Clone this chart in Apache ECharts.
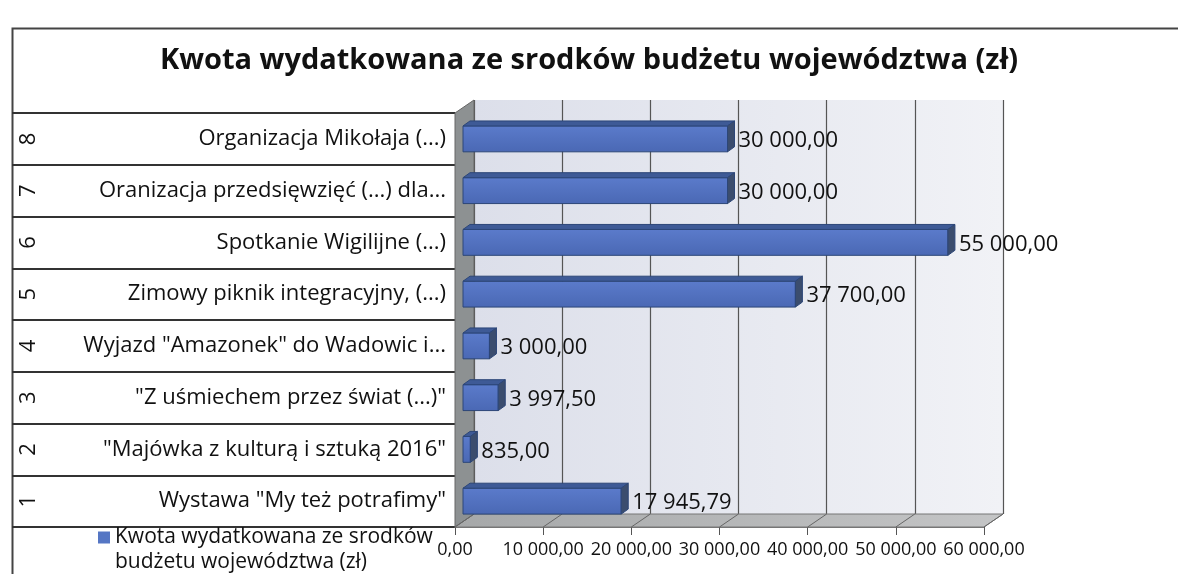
<!DOCTYPE html>
<html>
<head>
<meta charset="utf-8">
<script src="https://cdn.jsdelivr.net/npm/echarts@6/dist/echarts.min.js"></script>
<style>
  html, body { margin: 0; padding: 0; background: #fff; }
  #chart { width: 1178px; height: 574px; }
</style>
</head>
<body>
<div id="chart"></div>
<script>
// dane z wykresu (od dołu do góry)
var categoryNumbers = ['1', '2', '3', '4', '5', '6', '7', '8']
var categoryNames = [
  'Wystawa "My też potrafimy"',
  '"Majówka z kulturą i sztuką 2016"',
  '"Z uśmiechem przez świat (...)"',
  'Wyjazd "Amazonek" do Wadowic i...',
  'Zimowy piknik integracyjny, (...)',
  'Spotkanie Wigilijne (...)',
  'Oranizacja przedsięwzięć (...) dla...',
  'Organizacja Mikołaja (...)'
]
var amounts = [17945.79, 835, 3997.5, 3000, 37700, 55000, 30000, 30000]
var xTicks = [0, 10000, 20000, 30000, 40000, 50000, 60000]
var seriesName = 'Kwota wydatkowana ze srodków budżetu województwa (zł)'
var titleText = 'Kwota wydatkowana ze srodków budżetu województwa (zł)'

var FONT = 'Open Sans'
var DEPTH_X = 19
var DEPTH_Y = -13

function fmt(v) {
  var s = v.toFixed(2).split('.')
  s[0] = s[0].replace(/\B(?=(\d{3})+(?!\d))/g, ' ')
  return s.join(',')
}

// słupki 3D
function renderBar(params, api) {
  var v = api.value(0)
  var c = api.value(1)
  var p0 = api.coord([0, c])
  var p1 = api.coord([v, c])
  var h = api.size([0, 1])[1] * 0.5
  var sx = 8, dx = 7, dy = -5
  var x0 = p0[0] + sx, x1 = p1[0] + sx
  var y0 = p0[1] - h / 2, y1 = p0[1] + h / 2
  var stroke = '#2c4678'
  return {
    type: 'group',
    children: [
      {
        type: 'rect',
        shape: { x: x0, y: y0, width: x1 - x0, height: h },
        style: {
          fill: new echarts.graphic.LinearGradient(0, 0, 0, 1, [
            { offset: 0, color: '#5b7bcb' },
            { offset: 1, color: '#4a68b4' }
          ]),
          stroke: stroke, lineWidth: 1
        }
      },
      {
        type: 'polygon',
        shape: { points: [[x0, y0], [x1, y0], [x1 + dx, y0 + dy], [x0 + dx, y0 + dy]] },
        style: { fill: '#3e5a96', stroke: stroke, lineWidth: 1 }
      },
      {
        type: 'polygon',
        shape: { points: [[x1, y0], [x1 + dx, y0 + dy], [x1 + dx, y1 + dy], [x1, y1]] },
        style: { fill: '#3b4d6e', stroke: stroke, lineWidth: 1 }
      },
      {
        type: 'text',
        style: {
          text: fmt(v),
          x: x1 + dx + 4,
          y: p0[1] + 2,
          verticalAlign: 'middle',
          fill: '#111',
          font: '22px "' + FONT + '"'
        }
      }
    ]
  }
}

// podłoga i lewa ściana
function renderFloor(params, api) {
  var cs = params.coordSys
  var bottom = cs.y + cs.height
  var x = api.coord([api.value(0), 0])[0]
  var children = []
  if (params.dataIndex === 0) {
    children.push({
      type: 'polygon',
      shape: { points: [[cs.x, bottom], [cs.x + cs.width, bottom], [cs.x + cs.width + DEPTH_X, bottom + DEPTH_Y], [cs.x + DEPTH_X, bottom + DEPTH_Y]] },
      style: {
        fill: new echarts.graphic.LinearGradient(0, 0, 1, 0, [
          { offset: 0, color: '#a6a8a9' },
          { offset: 1, color: '#c4c5c6' }
        ]),
        stroke: '#777', lineWidth: 1
      }
    })
    children.push({
      type: 'polygon',
      shape: { points: [[cs.x, cs.y], [cs.x + DEPTH_X, cs.y + DEPTH_Y], [cs.x + DEPTH_X, bottom + DEPTH_Y], [cs.x, bottom]] },
      style: { fill: '#8d9192', stroke: '#666', lineWidth: 1 }
    })
  }
  children.push({
    type: 'line',
    shape: { x1: x, y1: bottom, x2: x + DEPTH_X, y2: bottom + DEPTH_Y },
    style: { stroke: '#666', lineWidth: 1 }
  })
  return { type: 'group', children: children }
}

var chart = echarts.init(document.getElementById('chart'))

var option = {
  backgroundColor: '#fff',
  animation: false,
  title: {
    text: titleText,
    left: 'center',
    top: 41,
    textStyle: { fontFamily: FONT, fontWeight: 'bold', fontSize: 29, color: '#111' }
  },
  legend: {
    left: 98,
    top: 525,
    padding: 0,
    itemWidth: 12,
    itemHeight: 37,
    itemGap: 4,
    data: [{ name: seriesName, icon: 'path://M0,0L12,0L12,12L0,12Z M0,37' }],
    formatter: function () { return 'Kwota wydatkowana ze srodków\nbudżetu województwa (zł)' },
    textStyle: { fontFamily: FONT, fontSize: 21, lineHeight: 25, color: '#111' }
  },
  graphic: [
    {
      type: 'rect',
      left: 10, top: 26,
      shape: { width: 1400, height: 700 },
      style: { fill: null, stroke: '#444', lineWidth: 2 },
      silent: true
    }
  ],
  grid: [
    // przód
    { left: 455, width: 529, top: 113, height: 414 },
    // tylna ściana
    {
      left: 455 + DEPTH_X, width: 529, top: 113 + DEPTH_Y, height: 414,
      show: true, borderWidth: 0,
      backgroundColor: new echarts.graphic.LinearGradient(0, 0, 1, 0, [
        { offset: 0, color: '#dcdfea' },
        { offset: 1, color: '#f1f2f6' }
      ])
    },
    // tabela z lewej
    { left: 12, width: 443, top: 113, height: 414 }
  ],
  xAxis: [
    {
      gridIndex: 0, type: 'value', min: 0, max: 60000, interval: 10000,
      axisLine: { show: true, lineStyle: { color: '#777' } },
      axisTick: { show: true, length: 8, lineStyle: { color: '#555' } },
      splitLine: { show: false },
      axisLabel: { formatter: fmt, fontFamily: FONT, fontSize: 18, color: '#111', margin: 14 }
    },
    {
      gridIndex: 1, type: 'value', min: 0, max: 60000, interval: 10000,
      axisLine: { show: false }, axisTick: { show: false }, axisLabel: { show: false },
      splitLine: { show: true, lineStyle: { color: '#555', width: 1.2 } }
    },
    {
      gridIndex: 2, type: 'value', min: 0, max: 1, show: false
    }
  ],
  yAxis: [
    {
      gridIndex: 0, type: 'category', data: categoryNames,
      axisLine: { show: false }, axisTick: { show: false },
      axisLabel: { fontFamily: FONT, fontSize: 22, color: '#111', margin: 9 }
    },
    {
      gridIndex: 1, type: 'category', data: categoryNames, show: false
    },
    {
      gridIndex: 2, type: 'category', data: categoryNumbers,
      axisLine: { show: false }, axisTick: { show: false },
      axisLabel: { inside: true, rotate: 90, margin: 6, fontFamily: FONT, fontSize: 22, color: '#111' },
      splitLine: { show: true, lineStyle: { color: '#333', width: 2 } }
    }
  ],
  series: [
    {
      type: 'custom',
      name: 'floor',
      xAxisIndex: 0, yAxisIndex: 0,
      z: 1,
      silent: true,
      renderItem: renderFloor,
      data: xTicks.map(function (t) { return [t] }),
      encode: { x: 0 }
    },
    {
      type: 'custom',
      name: seriesName,
      xAxisIndex: 0, yAxisIndex: 0,
      z: 3,
      itemStyle: { color: '#5576c4' },
      renderItem: renderBar,
      data: amounts.map(function (v, i) { return [v, i] }),
      encode: { x: 0, y: 1 }
    }
  ]
}

chart.setOption(option)
</script>
</body>
</html>
